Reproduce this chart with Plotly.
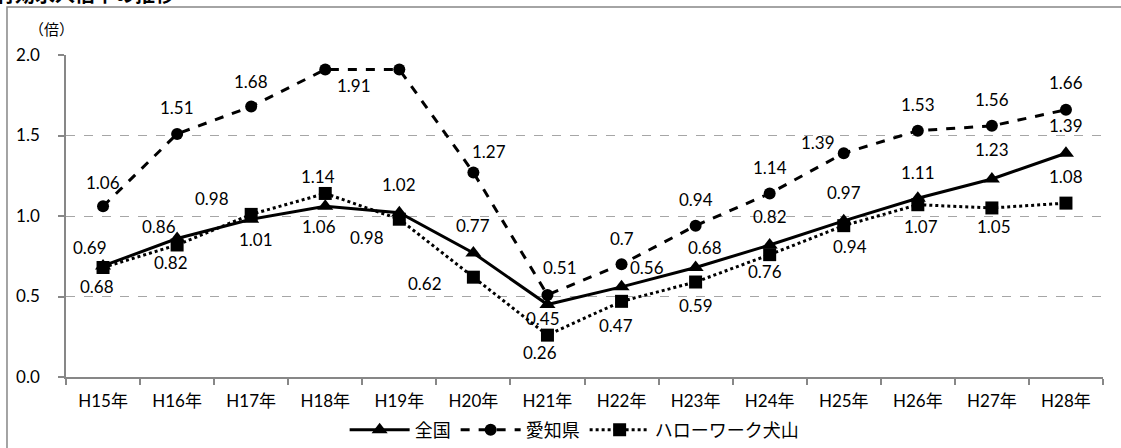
import plotly.graph_objects as go

# ---- data ----
categories = ["H15年", "H16年", "H17年", "H18年", "H19年", "H20年", "H21年",
              "H22年", "H23年", "H24年", "H25年", "H26年", "H27年", "H28年"]
zenkoku = [0.69, 0.86, 0.98, 1.06, 1.02, 0.77, 0.45, 0.56, 0.68, 0.82, 0.97, 1.11, 1.23, 1.39]
aichi = [1.06, 1.51, 1.68, 1.91, 1.91, 1.27, 0.51, 0.70, 0.94, 1.14, 1.39, 1.53, 1.56, 1.66]
inuyama = [0.68, 0.82, 1.01, 1.14, 0.98, 0.62, 0.26, 0.47, 0.59, 0.76, 0.94, 1.07, 1.05, 1.08]
series_names = ["全国", "愛知県", "ハローワーク犬山"]
y_ticks = [0.0, 0.5, 1.0, 1.5, 2.0]
unit_label = "（倍）"
title_text = "有効求人倍率の推移"

# ---- label placement (pixel shifts: dx right, dy down) ----
zen_off = [(-13, -18), (-18, -12), (-39, -21), (-6, 20), (0, -28), (0, -28), (-4, 14),
           (25, -19), (9, -20), (0, -28), (0, -28), (0, -26), (0, -29), (0, -28)]
aic_off = [(0, -24), (0, -26), (0, -25), (29, 16), None, (16, -21), (13, -27),
           (0, -26), (0, -26), (0, -26), (-26, -11), (0, -26), (0, -26), (0, -27)]
inu_off = [(-6, 19), (-6, 18), (5, 25), (-7, -17), (-32, 18), (-48, 6), (-7, 17),
           (-6, 24), (0, 23), (-5, 17), (6, 21), (3, 22), (2, 19), (0, -27)]

FONT = "Lato, 'Noto Sans CJK JP', sans-serif"
JFONT = "'Noto Sans CJK JP', Lato, sans-serif"
GRAY = "#878787"

fig = go.Figure()
fig.add_trace(go.Scatter(x=categories, y=zenkoku, name=series_names[0], mode="lines+markers",
                         line=dict(color="black", width=3, dash="solid"),
                         marker=dict(symbol="triangle-up", size=14, color="black")))
fig.add_trace(go.Scatter(x=categories, y=aichi, name=series_names[1], mode="lines+markers",
                         line=dict(color="black", width=3, dash="dash"),
                         marker=dict(symbol="circle", size=12, color="black")))
fig.add_trace(go.Scatter(x=categories, y=inuyama, name=series_names[2], mode="lines+markers",
                         line=dict(color="black", width=3, dash="dot"),
                         marker=dict(symbol="square", size=13, color="black")))

annotations = []
for vals, offs in ((zenkoku, zen_off), (aichi, aic_off), (inuyama, inu_off)):
    for c, v, o in zip(categories, vals, offs):
        if o is None:
            continue
        annotations.append(dict(x=c, y=v, xref="x", yref="y", text=f"{v:g}", showarrow=False,
                                xshift=o[0], yshift=-o[1], xanchor="center", yanchor="middle",
                                font=dict(family=FONT, size=17, color="#000")))

annotations.append(dict(x=-0.014, y=1.083, xref="paper", yref="paper", text=unit_label,
                        showarrow=False, xanchor="center", yanchor="middle",
                        font=dict(family=JFONT, size=15, color="#000")))
annotations.append(dict(x=-0.07, y=1.14, xref="paper", yref="paper", text=f"<b>{title_text}</b>",
                        showarrow=False, xanchor="left", yanchor="bottom",
                        font=dict(family=JFONT, size=20, color="#000")))

fig.update_layout(
    width=1121, height=448,
    margin=dict(l=66, r=18, t=55, b=71, autoexpand=False),
    paper_bgcolor="white", plot_bgcolor="white",
    font=dict(family=FONT, size=16, color="#000"),
    showlegend=True,
    legend=dict(orientation="h", x=0.49, y=-0.165, xanchor="center", yanchor="middle",
                font=dict(family=JFONT, size=18, color="#000"), itemwidth=60,
                bgcolor="rgba(0,0,0,0)"),
    annotations=annotations,
    shapes=[dict(type="rect", xref="paper", yref="paper", x0=-0.0569, x1=1.03, y0=-0.25, y1=1.149,
                 line=dict(color=GRAY, width=1.5), fillcolor="rgba(0,0,0,0)", layer="below")],
)
fig.update_xaxes(type="category", range=[-0.5, 13.5], showline=True, linecolor=GRAY, linewidth=1.5,
                 ticks="outside", tickson="boundaries", ticklen=6, tickcolor=GRAY, tickwidth=1.5,
                 showgrid=False, tickfont=dict(family=FONT, size=17), ticklabelstandoff=8,
                 automargin=False)
fig.update_yaxes(range=[0, 2.0], tickvals=y_ticks, tickformat=".1f", showline=True, linecolor=GRAY,
                 linewidth=1.5, ticks="outside", ticklen=6, tickcolor=GRAY, tickwidth=1.5,
                 showgrid=True, gridcolor="#a6a6a6", griddash="dash", gridwidth=1,
                 zeroline=False, tickfont=dict(family=FONT, size=17), ticklabelstandoff=15,
                 automargin=False)

fig.write_html("out.html", config={"displayModeBar": False},
               post_script="document.body.style.margin='0';document.body.style.overflow='hidden';")
